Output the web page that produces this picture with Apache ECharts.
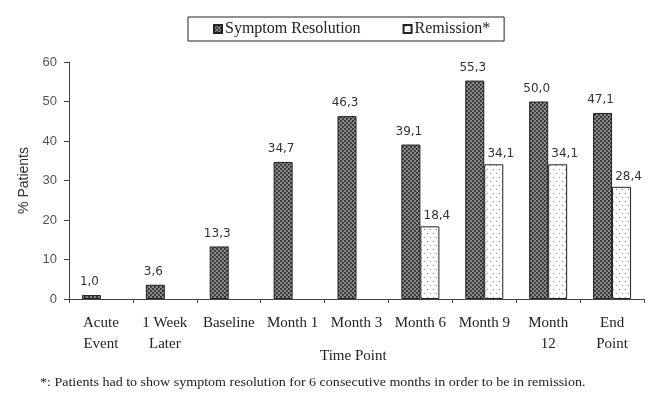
<!DOCTYPE html>
<html>
<head>
<meta charset="utf-8">
<script src="https://cdn.jsdelivr.net/npm/echarts@6/dist/echarts.min.js"></script>
<style>
  html, body { margin: 0; padding: 0; background: #fff; }
  #chart { width: 654px; height: 398px; }
</style>
</head>
<body>
<div id="chart"></div>
<script>
// Time points on the x axis
const categories = ['Acute\nEvent', '1 Week\nLater', 'Baseline', 'Month 1', 'Month 3', 'Month 6', 'Month 9', 'Month\n12', 'End\nPoint'];
// % of patients with symptom resolution
const symptomResolution = [1.0, 3.6, 13.3, 34.7, 46.3, 39.1, 55.3, 50.0, 47.1];
// % of patients in remission (only measured from Month 6 on)
const remission = [null, null, null, null, null, 18.4, 34.1, 34.1, 28.4];
// Y axis ticks
const yTicks = [0, 10, 20, 30, 40, 50, 60];

// Dense cross-hatch fill
function hatchPattern() {
  const c = document.createElement('canvas');
  c.width = 4; c.height = 4;
  const g = c.getContext('2d');
  g.fillStyle = '#888888';
  g.fillRect(0, 0, 4, 4);
  g.fillStyle = '#363636';
  g.fillRect(0, 0, 2, 2);
  g.fillRect(2, 2, 2, 2);
  g.fillStyle = '#5a5a5a';
  g.fillRect(1, 1, 1, 1);
  g.fillRect(3, 3, 1, 1);
  return c;
}
// Sparse dotted fill
function dotPattern() {
  const c = document.createElement('canvas');
  c.width = 6; c.height = 8;
  const g = c.getContext('2d');
  g.fillStyle = '#ffffff';
  g.fillRect(0, 0, 6, 8);
  g.fillStyle = '#8a8a8a';
  g.fillRect(1, 1, 1, 1);
  g.fillRect(4, 5, 1, 1);
  return c;
}

const comma = v => v.toFixed(1).replace('.', ',');
const serif = '"Liberation Serif", "DejaVu Serif", serif';
const sans = '"DejaVu Sans", sans-serif';
const arial = '"Liberation Sans", Arial, sans-serif';

const chart = echarts.init(document.getElementById('chart'), null, { renderer: 'canvas' });

function labelOpt(dx, dist) {
  return {
    show: true,
    position: 'top',
    distance: dist,
    offset: [dx, 0],
    color: '#333',
    fontFamily: sans,
    fontSize: 12,
    formatter: p => comma(p.value)
  };
}

chart.setOption({
  animation: false,
  backgroundColor: '#fff',
  legend: {
    top: 17,
    left: 188,
    icon: 'rect',
    itemWidth: 8,
    itemHeight: 8,
    itemGap: 42,
    padding: [4, 14, 4, 25],
    borderColor: '#222',
    borderWidth: 1,
    textStyle: { fontFamily: serif, fontSize: 16, color: '#222', padding: [0, 0, 0, -2] },
    data: ['Symptom Resolution', 'Remission*']
  },
  grid: { left: 69, right: 10, top: 62, bottom: 99, containLabel: false },
  xAxis: {
    type: 'category',
    data: categories,
    axisLine: { lineStyle: { color: '#444', width: 1 } },
    axisTick: { show: true, alignWithLabel: false, length: 4, lineStyle: { color: '#444' } },
    axisLabel: {
      interval: 0,
      margin: 14,
      fontFamily: serif,
      fontSize: 15,
      lineHeight: 21,
      color: '#222'
    }
  },
  yAxis: {
    type: 'value',
    min: yTicks[0],
    max: yTicks[yTicks.length - 1],
    interval: 10,
    name: '% Patients',
    nameLocation: 'middle',
    nameGap: 32,
    nameTextStyle: { fontFamily: arial, fontSize: 14, color: '#333' },
    axisLine: { show: true, lineStyle: { color: '#444', width: 1 } },
    axisTick: { show: true, length: 5, lineStyle: { color: '#444' } },
    splitLine: { show: false },
    axisLabel: { fontFamily: arial, fontSize: 13, color: '#555', margin: 12 }
  },
  series: [
    {
      name: 'Symptom Resolution',
      type: 'bar',
      data: symptomResolution,
      barWidth: 19,
      barGap: '0%',
      itemStyle: {
        color: { image: hatchPattern(), repeat: 'repeat' },
        borderColor: '#222',
        borderWidth: 1
      },
      label: labelOpt(-2, 7)
    },
    {
      name: 'Remission*',
      type: 'bar',
      data: remission,
      barWidth: 19,
      barGap: '0%',
      itemStyle: {
        color: { image: dotPattern(), repeat: 'repeat' },
        borderColor: '#222',
        borderWidth: 1
      },
      label: labelOpt(7, 4)
    }
  ],
  graphic: [
    {
      type: 'text',
      left: 320,
      top: 349,
      style: { text: 'Time Point', font: '15px ' + serif, fill: '#222' }
    },
    {
      type: 'text',
      x: 40,
      y: 376,
      scaleX: 1.08,
      style: {
        text: '*: Patients had to show symptom resolution for 6 consecutive months in order to be in remission.',
        font: '13px ' + serif,
        fill: '#222'
      }
    }
  ]
});
</script>
</body>
</html>
